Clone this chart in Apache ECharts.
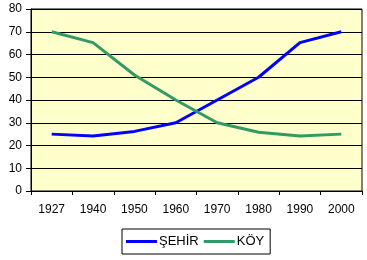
<!DOCTYPE html>
<html><head><meta charset="utf-8">
<script src="https://cdn.jsdelivr.net/npm/echarts@6/dist/echarts.min.js"></script>
<style>html,body{margin:0;padding:0;background:#fff}#c{width:367px;height:260px}</style>
</head><body><div id="c"></div>
<script>
var categories = ['1927','1940','1950','1960','1970','1980','1990','2000'];
var sehir = [25, 24.2, 26.2, 30, 40, 50, 65.2, 70];
var koy = [70, 65.2, 51, 40, 30, 25.8, 24.2, 25];
var seriesNames = ['ŞEHİR','KÖY'];
var chart = echarts.init(document.getElementById('c'), null, {renderer:'canvas'});
var font = 'Liberation Sans, Arial, sans-serif';
chart.setOption({
  animation:false,
  backgroundColor:'#fff',
  grid:{left:31,right:5,top:9,bottom:69,show:true,backgroundColor:'#FFFFCC',borderColor:'#000',borderWidth:1},
  xAxis:{type:'category',data:categories,boundaryGap:true,
    axisLine:{lineStyle:{color:'#000',width:1}},
    axisTick:{show:true,length:4,inside:false,lineStyle:{color:'#000'}},
    axisLabel:{color:'#000',fontSize:12,fontFamily:font,margin:13,interval:0},
    splitLine:{show:false}},
  yAxis:{type:'value',min:0,max:80,interval:10,
    axisLine:{show:true,lineStyle:{color:'#000',width:1}},
    axisTick:{show:true,length:5,lineStyle:{color:'#000'}},
    axisLabel:{color:'#000',fontSize:12,fontFamily:font,margin:9},
    splitLine:{show:true,lineStyle:{color:'#000',width:1}}},
  legend:{top:229,left:122,orient:'horizontal',
    borderColor:'#000',borderWidth:1,padding:[6,6,6,4],
    itemWidth:31,itemHeight:3,itemGap:5,icon:'rect',
    textStyle:{color:'#000',fontSize:13,fontFamily:font,padding:[0,0,0,-3]},
    data:seriesNames},
  series:[
    {name:seriesNames[0],type:'line',data:sehir,showSymbol:false,symbol:'none',
      lineStyle:{color:'#0000FF',width:3},itemStyle:{color:'#0000FF'}},
    {name:seriesNames[1],type:'line',data:koy,showSymbol:false,symbol:'none',
      lineStyle:{color:'#339966',width:3},itemStyle:{color:'#339966'}}
  ]
});
</script></body></html>
